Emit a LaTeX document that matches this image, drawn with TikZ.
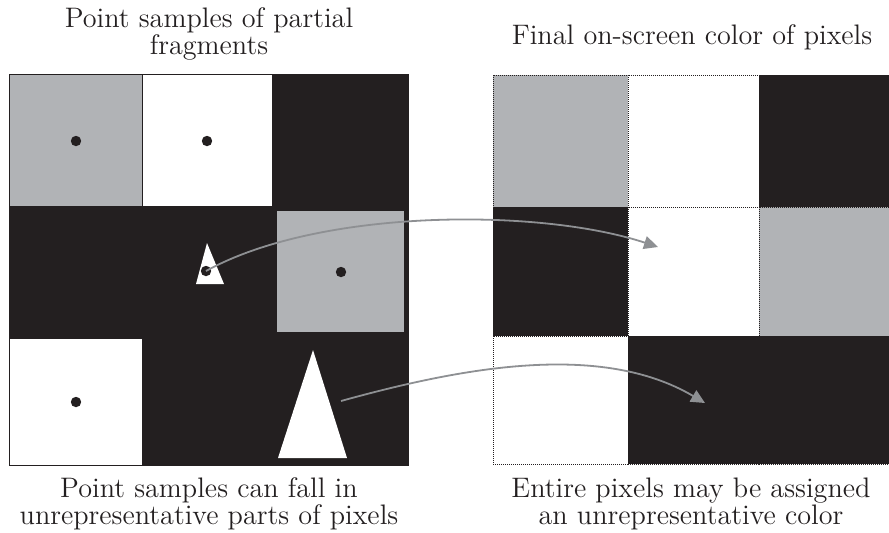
\documentclass[tikz,border=0pt]{standalone}
\usepackage{xcolor}
\usepackage{tikz}
\usetikzlibrary{arrows.meta}

\definecolor{pixblack}{HTML}{231F20}
\definecolor{pixgray}{HTML}{B1B3B6}
\definecolor{arrowgray}{HTML}{8E9093}

\begin{document}
\begin{tikzpicture}[x=0.5pt, y=-0.5pt,
    caption/.style={align=center, text=pixblack, font=\fontsize{14.1}{13.6}\selectfont},
    sampledot/.style={circle, fill=pixblack, inner sep=0pt, minimum size=5.2pt},
    cellbox/.style={draw=pixblack, line width=0.5pt, dash pattern=on 0.45pt off 0.55pt},
    samplearr/.style={-{Triangle[length=7pt, width=6.5pt]}, arrowgray, line width=0.9pt}
]
\useasboundingbox (0,0) rectangle (889,532);

% ---- Left grid: point samples ----
\fill[pixblack] (9,74) rectangle (409,466);
\fill[pixgray]  (10,75)  rectangle (142,206);
\fill[white]    (143,75) rectangle (272,206);
\fill[pixgray]  (277,211) rectangle (404,332);
\fill[white]    (10,339) rectangle (142,465);
% partial fragments
\fill[white] (207,243) -- (224,284) -- (196,284) -- cycle;
\fill[white] (313,350) -- (347,458) -- (278,458) -- cycle;
% sample points
\node[sampledot] (dotgray)  at (76,141)  {};
\node[sampledot] (dotwhite) at (207,141) {};
\node[sampledot] (dotmid)   at (206,271) {};
\node[sampledot] (dotright) at (341,272) {};
\node[sampledot] (dotlow)   at (76,402)  {};
\coordinate (bigfrag) at (341,401);

% ---- Right grid: final pixel colours ----
\foreach \x/\y/\w/\h/\shade in {
    493/75/135/132/pixgray, 628/75/131/132/white, 759/75/131/132/pixblack,
    493/207/135/129/pixblack, 628/207/131/129/white, 759/207/131/129/pixgray,
    493/336/135/128/white, 628/336/131/128/pixblack, 759/336/131/128/pixblack} {
  \filldraw[cellbox, fill=\shade] (\x,\y) rectangle ++(\w,\h);
}
\coordinate (tipA) at (658,247);
\coordinate (tipB) at (705,403);

% ---- Arrows ----
\draw[samplearr] (dotmid.center) .. controls (320,208) and (540,208) .. (tipA);
\draw[samplearr] (bigfrag) .. controls (460,368) and (600,341) .. (tipB);

% ---- Captions ----
\node[caption] (leftTitle)  at (209,34)  {Point samples of partial\\fragments};
\node[caption] (rightTitle) at (692,37)  {Final on-screen color of pixels};
\node[caption] (leftNote)   at (209,504) {Point samples can fall in\\unrepresentative parts of pixels};
\node[caption] (rightNote)  at (691,504) {Entire pixels may be assigned\\an unrepresentative color};

\end{tikzpicture}
\end{document}
